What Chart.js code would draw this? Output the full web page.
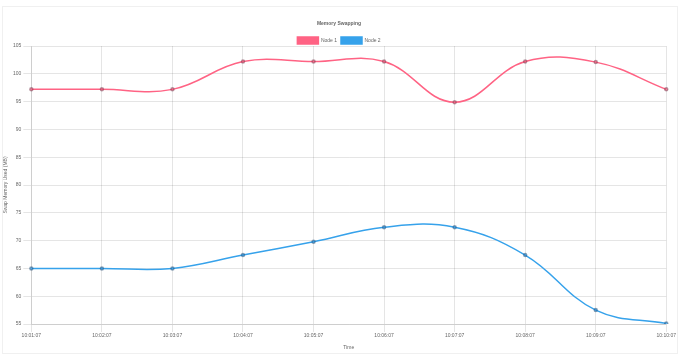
<!DOCTYPE html>
<html>
<head>
<meta charset="utf-8">
<script src="https://cdn.jsdelivr.net/npm/chart.js@4"></script>
<style>
    html, body { margin: 0; padding: 0; background: #fff; }
    .box { position: absolute; left: 2px; top: 6px; width: 674px; height: 346px; border: 1px solid #f0f0f0; }
    canvas { display: block; }
</style>
</head>
<body>
<div class="box"><canvas id="myChart"></canvas></div>
<script>
var labels = ['10:01:07', '10:02:07', '10:03:07', '10:04:07', '10:05:07',
    '10:06:07', '10:07:07', '10:08:07', '10:09:07', '10:10:07'];
var node1Data = [97.2, 97.2, 97.2, 102.2, 102.2, 102.2, 94.9, 102.2, 102.1, 97.2];
var node2Data = [65.0, 65.0, 65.0, 67.4, 69.8, 72.4, 72.4, 67.4, 57.5, 55.1];

Chart.defaults.font.size = 5;
Chart.defaults.font.family = 'Helvetica, Arial, sans-serif';
Chart.defaults.color = '#666';

// pull the plot up closer to the legend
var tightLegend = {
    id: 'tightLegend',
    beforeInit: function (chart) {
        var fit = chart.legend.fit;
        chart.legend.fit = function () {
            fit.bind(chart.legend)();
            this.height -= 8;
        };
    }
};

var ctx = document.getElementById('myChart').getContext('2d');
var myChart = new Chart(ctx, {
    type: 'line',
    data: {
        labels: labels,
        datasets: [{
            label: 'Node 1',
            data: node1Data,
            borderColor: 'rgb(255, 99, 132)',
            backgroundColor: 'rgb(255, 99, 132)',
            pointBackgroundColor: 'rgba(255, 99, 132, 0.6)',
            pointBorderColor: 'rgba(120, 60, 80, 0.5)',
            borderWidth: 1.5,
            pointRadius: 1.5,
            tension: 0.4,
            fill: false
        }, {
            label: 'Node 2',
            data: node2Data,
            borderColor: 'rgb(54, 162, 235)',
            backgroundColor: 'rgb(54, 162, 235)',
            pointBackgroundColor: 'rgba(54, 162, 235, 0.6)',
            pointBorderColor: 'rgba(40, 80, 120, 0.5)',
            borderWidth: 1.5,
            pointRadius: 1.5,
            tension: 0.4,
            fill: false
        }]
    },
    plugins: [tightLegend],
    options: {
        responsive: true,
        maintainAspectRatio: false,
        animation: false,
        layout: { padding: { left: 0, right: 2, top: 10, bottom: 2 } },
        plugins: {
            title: {
                display: true,
                text: 'Memory Swapping',
                font: { size: 5, weight: 'bold' },
                padding: { top: 4, bottom: 6 }
            },
            legend: {
                labels: { boxWidth: 21, boxHeight: 7, padding: 4 }
            }
        },
        scales: {
            x: {
                title: { display: true, text: 'Time', padding: { top: 5, bottom: 0 } },
                ticks: { maxRotation: 0, padding: 1 }
            },
            y: {
                min: 55,
                max: 105,
                ticks: { stepSize: 5, padding: 2 },
                title: { display: true, text: 'Swap Memory Used (MB)', padding: { top: 0, bottom: 2 } }
            }
        }
    }
});
</script>
</body>
</html>
